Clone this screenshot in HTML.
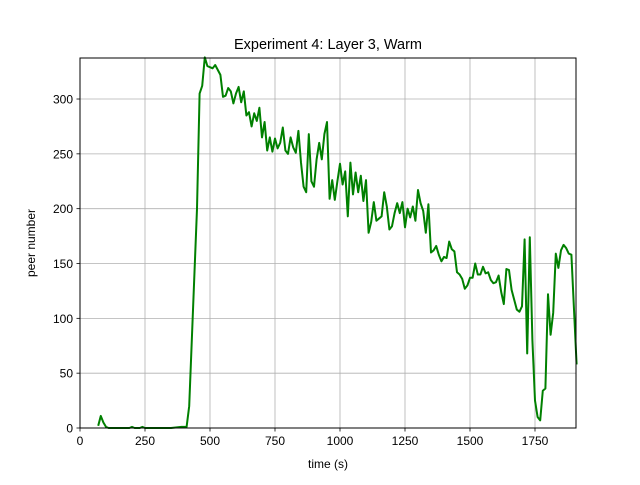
<!DOCTYPE html>
<html><head><meta charset="utf-8"><style>
body{margin:0;background:#fff;}
svg text{font-family:"Liberation Sans","DejaVu Sans",sans-serif;fill:#000;}
</style></head><body>
<svg id="chart" width="640" height="480" xmlns="http://www.w3.org/2000/svg">
<rect width="640" height="480" fill="#fff"/>
<g id="grid"></g>
<g id="series"></g>
<rect x="80" y="58" width="496" height="370" fill="none" stroke="#000" stroke-width="1"/>
<g id="ticks"></g>
<text x="328" y="49" font-size="14.5" text-anchor="middle">Experiment 4: Layer 3, Warm</text>
<text x="328" y="468" font-size="12" text-anchor="middle">time (s)</text>
<text x="35" y="243" font-size="12" text-anchor="middle" transform="rotate(-90 35 243)">peer number</text>
</svg>
<script>
const times=[70,80,90,100,110,150,190,200,210,230,240,250,300,350,390,400,410,420,430,450,460,470,480,490,500,510,520,540,550,560,570,580,590,600,610,620,630,640,650,660,670,680,690,700,710,720,730,740,750,760,770,780,790,800,810,820,830,840,850,860,870,880,890,900,910,920,930,940,950,960,970,980,990,1000,1010,1020,1030,1040,1050,1060,1070,1080,1090,1100,1110,1120,1130,1140,1150,1160,1170,1180,1190,1200,1210,1220,1230,1240,1250,1260,1270,1280,1290,1300,1310,1320,1330,1340,1350,1360,1370,1380,1390,1400,1410,1420,1430,1440,1450,1460,1470,1480,1490,1500,1510,1520,1530,1540,1550,1560,1570,1580,1590,1600,1610,1620,1630,1640,1650,1660,1670,1680,1690,1700,1710,1720,1730,1740,1750,1760,1770,1780,1790,1800,1810,1820,1830,1840,1850,1860,1870,1880,1890,1910];
const peers=[2,11,5,1,0,0,0,1,0,0,1,0,0,0,1,1,1,20,80,200,305,312,338,330,329,328,331,322,302,303,310,307,296,305,311,297,307,285,288,275,287,280,292,265,279,253,265,252,264,255,260,274,253,250,265,256,251,271,242,220,215,268,225,220,245,260,245,268,279,209,226,208,225,241,222,234,193,242,213,233,215,230,207,226,178,188,206,189,191,193,215,202,181,184,196,205,196,206,183,200,192,202,189,217,205,198,178,204,160,162,166,158,152,156,155,170,163,161,142,140,136,127,130,137,137,150,140,140,147,141,142,135,132,133,139,124,113,145,144,126,117,108,106,111,172,68,174,80,25,10,7,34,36,122,85,105,159,146,162,167,164,159,158,58];
const xTicks=[0,250,500,750,1000,1250,1500,1750];
const yTicks=[0,50,100,150,200,250,300];
const X0=80,X1=576,Y0=428,Y1=58,XMAX=1907.7,YMAX=337.4;
const sx=t=>X0+t/XMAX*(X1-X0), sy=v=>Y0-v/YMAX*(Y0-Y1);
const NS='http://www.w3.org/2000/svg';
const grid=document.getElementById('grid'),ticks=document.getElementById('ticks'),ser=document.getElementById('series');
function mk(tag,attrs,parent){const e=document.createElementNS(NS,tag);for(const k in attrs)e.setAttribute(k,attrs[k]);parent.appendChild(e);return e;}
xTicks.forEach(t=>{const x=sx(t);
 const g=mk('line',{x1:x,x2:x,y1:Y1,y2:Y0,stroke:'#b0b0b0','stroke-width':0.8},grid);
 
 
 const tk=mk('line',{x1:x,x2:x,y1:Y0,y2:Y0+3.5,stroke:'#000','stroke-width':0.8},ticks);
 
 
 const tx=mk('text',{x:x,y:Y0+17,'font-size':12,'text-anchor':'middle'},ticks);tx.textContent=t;
 
 
});
yTicks.forEach(v=>{const y=sy(v);
 const g=mk('line',{x1:X0,x2:X1,y1:y,y2:y,stroke:'#b0b0b0','stroke-width':0.8},grid);
 
 
 const tk=mk('line',{x1:X0-3.5,x2:X0,y1:y,y2:y,stroke:'#000','stroke-width':0.8},ticks);
 
 
 const tx=mk('text',{x:X0-7,y:y+4.5,'font-size':12,'text-anchor':'end'},ticks);tx.textContent=v;
 
 
});
const d=times.map((t,i)=>(i?'L':'M')+sx(t).toFixed(2)+','+sy(peers[i]).toFixed(2)).join('');
const p=mk('path',{d:d,fill:'none',stroke:'#008000','stroke-width':2,'stroke-linejoin':'round'},ser);


</script>
</body></html>
